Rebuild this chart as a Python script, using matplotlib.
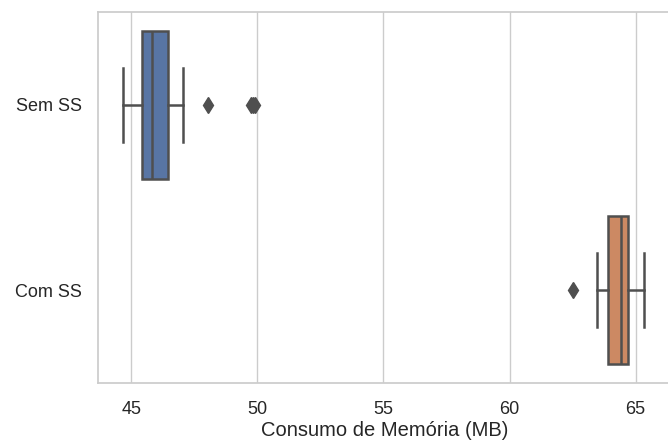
import matplotlib
matplotlib.use('Agg')
import matplotlib.pyplot as plt

# dados do boxplot
categorias = ["Sem SS", "Com SS"]
minimos = [44.69, 63.45]
q1 = [45.42, 63.91]
medianas = [45.83, 64.41]
q3 = [46.48, 64.69]
maximos = [47.06, 65.34]
outliers = [[48.04, 49.77, 49.84, 49.91], [62.52]]
cores = ["#5875a4", "#cc8963"]
xticks = [45, 50, 55, 60, 65]

plt.rcParams['font.family'] = ['Liberation Sans', 'DejaVu Sans']
plt.rcParams['text.color'] = '#262626'
plt.rcParams['axes.labelcolor'] = '#262626'
plt.rcParams['xtick.color'] = '#262626'
plt.rcParams['ytick.color'] = '#262626'

fig = plt.figure(figsize=(6.68, 4.40), dpi=100)
ax = fig.add_axes([0.1472, 0.1295, 0.8588, 0.8425])

stats = []
for i, nome in enumerate(categorias):
    stats.append({
        'label': nome,
        'whislo': minimos[i],
        'q1': q1[i],
        'med': medianas[i],
        'q3': q3[i],
        'whishi': maximos[i],
        'fliers': outliers[i],
    })

cinza = '#4f4f4f'
lw = 1.8
bp = ax.bxp(stats, positions=[0, 1], widths=0.8, vert=False, patch_artist=True,
            boxprops=dict(edgecolor=cinza, linewidth=lw),
            medianprops=dict(color=cinza, linewidth=lw),
            whiskerprops=dict(color=cinza, linewidth=lw),
            capprops=dict(color=cinza, linewidth=lw),
            flierprops=dict(marker='d', markerfacecolor=cinza, markeredgecolor=cinza,
                            markersize=8.5, linestyle='none'))
for caixa, cor in zip(bp['boxes'], cores):
    caixa.set_facecolor(cor)

ax.set_xlim(43.70, 66.44)
ax.set_ylim(1.5, -0.5)
ax.set_xticks(xticks)
ax.set_yticks([0, 1])
ax.set_yticklabels(categorias)
ax.set_xlabel('Consumo de Memória (MB)', fontsize=14.5, labelpad=2)

ax.tick_params(axis='x', length=0, pad=13, labelsize=13)
ax.tick_params(axis='y', length=0, pad=12, labelsize=13)
ax.xaxis.grid(True, color='#cccccc', linewidth=1.0)
ax.yaxis.grid(False)
ax.set_axisbelow(True)
for lado in ax.spines.values():
    lado.set_color('#cccccc')
    lado.set_linewidth(1.25)

plt.savefig('out.png', dpi=100)
plt.close()
